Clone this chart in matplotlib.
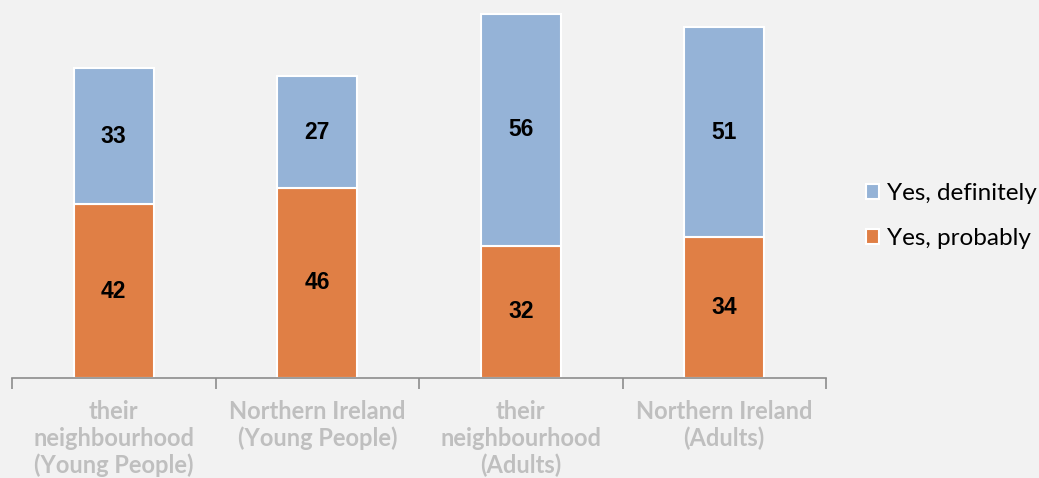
import matplotlib
matplotlib.use("Agg")
import matplotlib.pyplot as plt
import numpy as np

categories = [
    "their\nneighbourhood\n(Young People)",
    "Northern Ireland\n(Young People)",
    "their\nneighbourhood\n(Adults)",
    "Northern Ireland\n(Adults)",
]
yes_probably = [42, 46, 32, 34]
yes_definitely = [33, 27, 56, 51]
series_names = ["Yes, definitely", "Yes, probably"]

BLUE = "#95B3D7"
ORANGE = "#E07F45"
BG = "#F2F2F2"

fig = plt.figure(figsize=(10.39, 4.78), dpi=100, facecolor=BG)
ax = fig.add_axes([12 / 1039, 100 / 478, 814 / 1039, 372 / 478])
ax.set_facecolor(BG)

x = np.arange(len(categories))
width = 0.395
ax.bar(x, yes_probably, width, color=ORANGE, edgecolor="white", linewidth=1.5,
       label=series_names[1])
ax.bar(x, yes_definitely, width, bottom=yes_probably, color=BLUE,
       edgecolor="white", linewidth=1.5, label=series_names[0])

for xi, p, d in zip(x, yes_probably, yes_definitely):
    ax.text(xi, p / 2, str(p), ha="center", va="center", fontsize=16.5,
            fontweight="bold", color="black", family="Liberation Sans")
    ax.text(xi, p + d / 2, str(d), ha="center", va="center", fontsize=16.5,
            fontweight="bold", color="black", family="Liberation Sans")

ax.set_xlim(-0.5, len(categories) - 0.5)
ax.set_ylim(0, 90)

for side in ["top", "right", "left"]:
    ax.spines[side].set_visible(False)
ax.spines["bottom"].set_color("#8C8C8C")
ax.spines["bottom"].set_linewidth(1.2)
ax.set_yticks([])

# boundary ticks between categories, labels centred under each bar
ax.set_xticks(np.arange(-0.5, len(categories), 1.0))
ax.set_xticklabels([])
ax.tick_params(axis="x", which="major", length=8, width=1.2, color="#8C8C8C")
ax.set_xticks(x, minor=True)
ax.set_xticklabels(categories, minor=True, fontsize=17, fontweight="bold",
                   color="#BFBFBF", family="Lato", linespacing=1.18)
ax.tick_params(axis="x", which="minor", length=0, pad=16)

handles, labels = ax.get_legend_handles_labels()
leg = fig.legend(handles[::-1], labels[::-1], loc="center left",
                 bbox_to_anchor=(866 / 1039, (478 - 216) / 478), frameon=False,
                 prop={"family": "Lato", "size": 17.5}, handlelength=0.55,
                 handleheight=0.55, handletextpad=0.3, labelspacing=1.0,
                 borderpad=0, borderaxespad=0)
for h in leg.legend_handles:
    h.set_edgecolor("white")

fig.savefig("out.png", dpi=100, facecolor=BG)
